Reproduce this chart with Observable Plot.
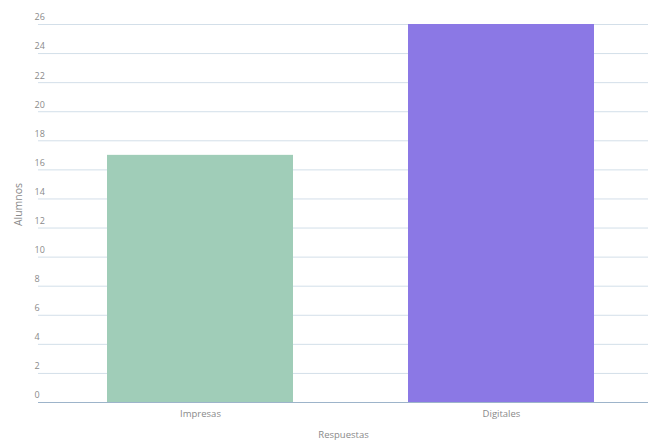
<!DOCTYPE html>
<html>
<head>
<meta charset="utf-8">
<script src="https://cdn.jsdelivr.net/npm/d3@7"></script>
<script src="https://cdn.jsdelivr.net/npm/@observablehq/plot@0.6"></script>
<style>
  html, body { margin: 0; padding: 0; background: #fff; }
  svg { display: block; }
</style>
</head>
<body>
<div id="chart"></div>
<script>
const categories = ["Impresas", "Digitales"];
const values = [17, 26];
const colors = ["#a0cdb8", "#8b78e5"];
const yTicks = [0, 2, 4, 6, 8, 10, 12, 14, 16, 18, 20, 22, 24, 26];

const data = categories.map((c, i) => ({respuesta: c, alumnos: values[i], color: colors[i]}));

const chart = Plot.plot({
  width: 648,
  height: 445,
  marginLeft: 38,
  marginRight: 0,
  marginTop: 24,
  marginBottom: 43,
  style: {fontFamily: "'Open Sans', sans-serif", fontSize: "9px", color: "#8a8a8a", background: "#fff"},
  x: {domain: categories, paddingInner: 0.382, paddingOuter: 0.204, align: 0.561, label: null},
  y: {domain: [0, 26], label: null},
  marks: [
    Plot.ruleY(yTicks.filter(d => d > 0), {stroke: "#d3dfe9", strokeWidth: 1}),
    Plot.barY(data, {x: "respuesta", y: "alumnos", fill: "color"}),
    Plot.ruleY([0], {stroke: "#9db4ca", strokeWidth: 1.2}),
    Plot.axisY({ticks: yTicks, tickSize: 0, tickPadding: 0, textAnchor: "start", dx: -4, dy: -7, label: null, fill: "#8a8a8a"}),
    Plot.axisX({tickSize: 0, tickPadding: 8, label: null, fill: "#8a8a8a", fontSize: 9.5}),
    Plot.text(["Alumnos"], {frameAnchor: "left", textAnchor: "middle", dx: -20, dy: -9, rotate: -90, fill: "#8a8a8a", fontSize: 10.5}),
    Plot.text(["Respuestas"], {frameAnchor: "bottom", dy: 35, fill: "#8a8a8a", fontSize: 9.5})
  ]
});
document.getElementById("chart").appendChild(chart);
</script>
</body>
</html>
